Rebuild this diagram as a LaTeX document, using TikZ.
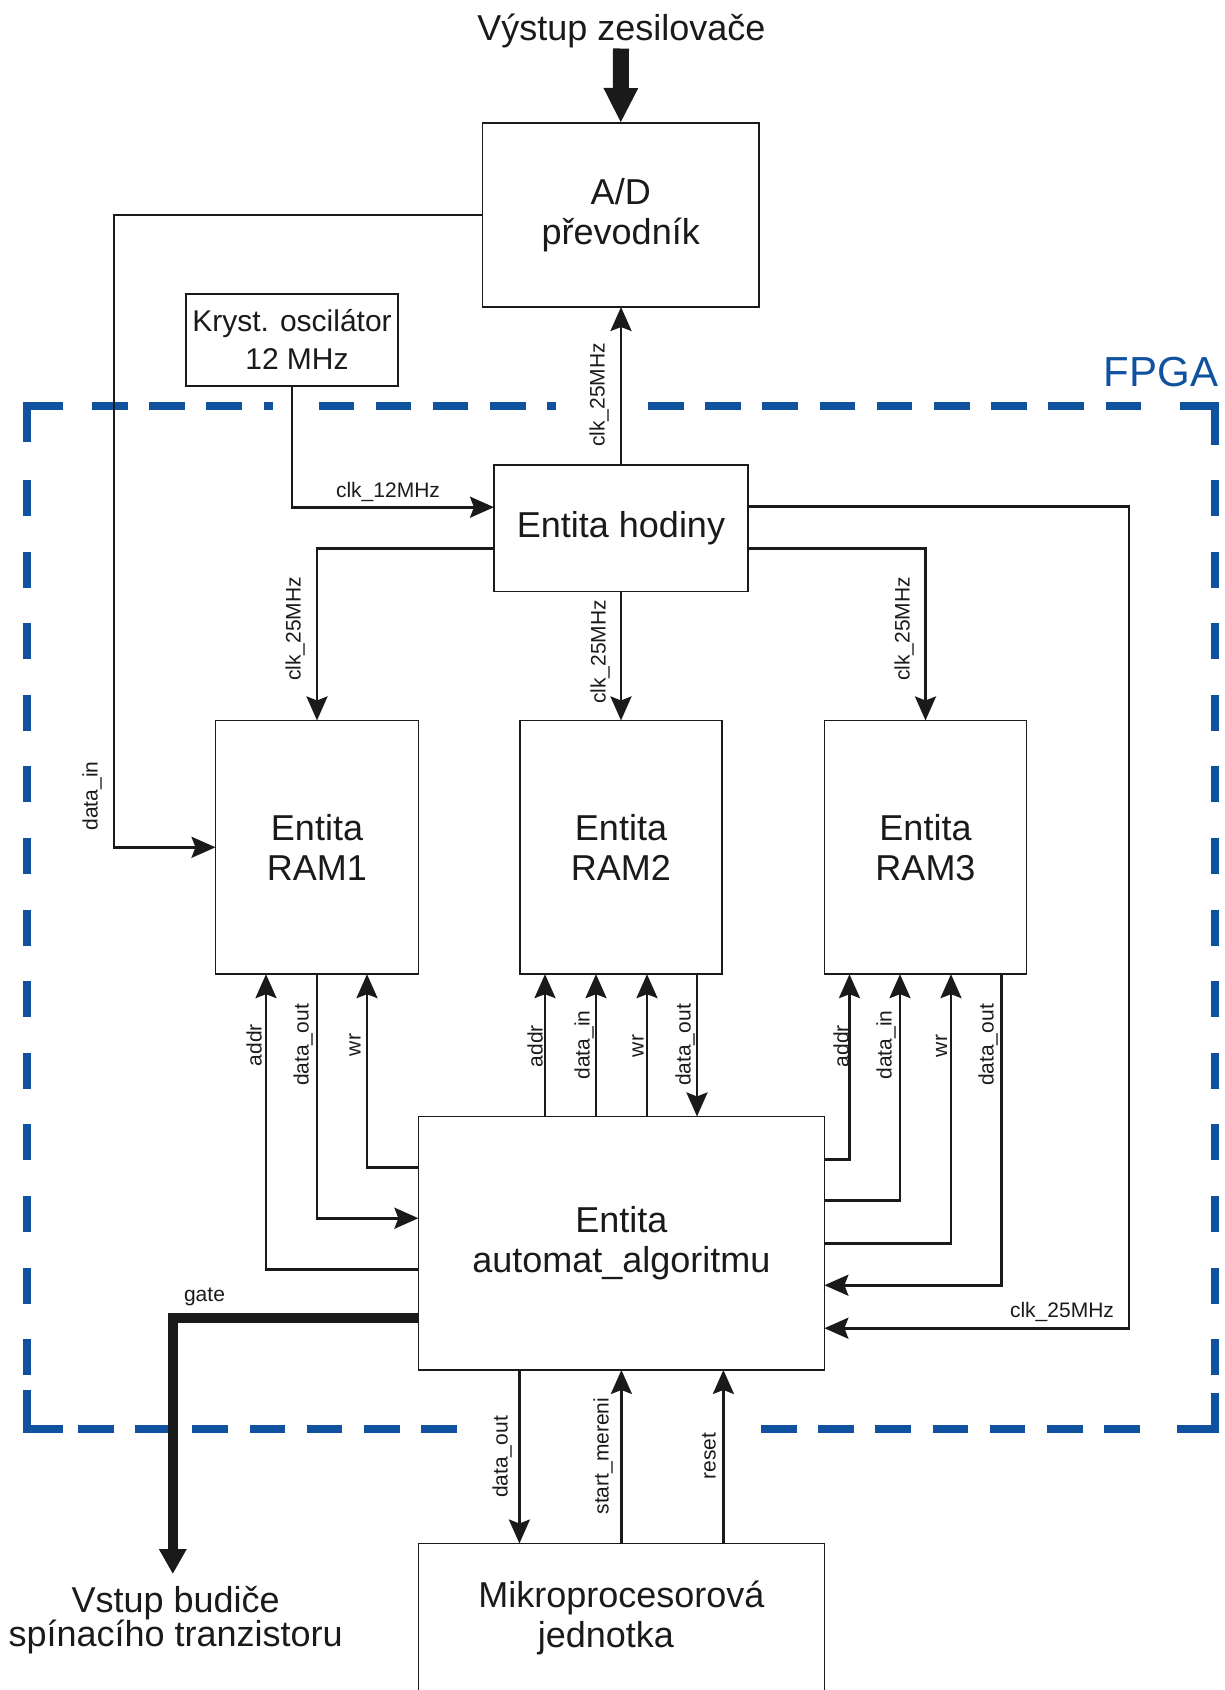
\documentclass[tikz,border=0pt]{standalone}
\usepackage{fontspec}
\usepackage{graphicx}
\setmainfont{Liberation Sans}
\usetikzlibrary{arrows.meta}
\definecolor{fpgablue}{RGB}{16,82,160}
\definecolor{ink}{RGB}{26,26,26}
\begin{document}
\begin{tikzpicture}[x=1pt,y=-1pt,
  box/.style={draw=ink, line width=1.8pt, inner sep=0pt, outer sep=0pt, align=center, font=\fontsize{36}{40}\selectfont, text=ink},
  conn/.style={draw=ink, line width=2.8pt, line join=miter, -{Stealth[length=24pt,width=21pt,inset=4pt]}},
  bigarrow/.style={draw=ink, line width=16pt, -{Triangle[length=35pt,width=32pt]}},
  gatearrow/.style={draw=ink, line width=10.5pt, line join=miter, -{Triangle[length=25pt,width=26pt]}},
  lbl/.style={inner sep=0pt, font=\fontsize{21}{25}\selectfont, text=ink},
  vlbl/.style={lbl, rotate=90},
  fpgah/.style={draw=fpgablue, line width=8pt, dash pattern=on 35.5pt off 21.7pt},
  fpgav/.style={draw=fpgablue, line width=8pt, dash pattern=on 36pt off 35.6pt},
  fpgac/.style={draw=fpgablue, line width=8pt, line join=miter},
]
\useasboundingbox (0,0) rectangle (1224,1690);
\clip (0,0) rectangle (1224,1690);

% FPGA frame
\draw[fpgac] (27,441.8) -- (27,406) -- (62.5,406);
\draw[fpgac] (1180,406) -- (1214.5,406) -- (1214.5,444.6);
\draw[fpgac] (27,1390) -- (27,1429) -- (62.5,1429);
\draw[fpgac] (1177,1429) -- (1214.5,1429) -- (1214.5,1393);
\draw[fpgah] (92,406) -- (273,406);
\draw[fpgah] (318.5,406) -- (556,406);
\draw[fpgah] (648,406) -- (1141,406);
\draw[fpgah] (78,1429) -- (458,1429);
\draw[fpgah] (761,1429) -- (1141,1429);
\draw[fpgav] (27,480) -- (27,1375);
\draw[fpgav] (1214.5,480) -- (1214.5,1375);
\node[anchor=base east, inner sep=0pt, text=fpgablue, font=\fontsize{42}{48}\selectfont] (fpgalbl) at (1218.5,386) {FPGA};

% boxes
\node[box, minimum width=276.5pt, minimum height=184pt] (ad) at (620.75,215) {A/D\\převodník};
\node[box, font=\fontsize{30}{38}\selectfont, minimum width=212pt, minimum height=92pt] (osc) at (292,339.6) {Kryst. oscilátor\\\hspace*{10pt}12 MHz};
\node[box, minimum width=254pt, minimum height=126.5pt] (hod) at (621,528.2) {Entita hodiny};
\node[box, minimum width=203pt, minimum height=253.7pt] (ram1) at (317,847.3) {Entita\\RAM1};
\node[box, minimum width=202pt, minimum height=253.7pt] (ram2) at (621,847.3) {Entita\\RAM2};
\node[box, minimum width=202pt, minimum height=253.7pt] (ram3) at (925.5,847.3) {Entita\\RAM3};
\node[box, minimum width=406pt, minimum height=253.5pt] (aut) at (621.4,1243.2) {Entita\\automat\_algoritmu};
\node[box, minimum width=406pt, minimum height=149pt] (mik) at (621.4,1618) {Mikroprocesorová\\jednotka\hspace*{31pt}};

% free texts
\node[inner sep=0pt, anchor=base, font=\fontsize{36}{40}\selectfont, text=ink] (title) at (621.5,40) {Výstup zesilovače};
\node[inner sep=0pt, align=center, font=\fontsize{36}{34}\selectfont, text=ink] (gout) at (175.6,1620) {Vstup budiče\\spínacího tranzistoru};
\coordinate (tin) at (621,48.5);
\coordinate (gend) at (172.8,1574);

% connectors
\draw[bigarrow] (tin) -- (ad.north);
\draw[conn] (ad.west) -- ++(-368.5,0) |- (ram1.west);
\draw[conn] (osc.south) |- ([yshift=21pt]hod.west);
\draw[conn] (hod.north) -- (hod.north |- ad.south);
\draw[conn] ([yshift=-20pt]hod.west) -| (ram1.north);
\draw[conn] (hod.south) -- (ram2.north);
\draw[conn] ([yshift=-20pt]hod.east) -| (ram3.north);
\draw[conn] ([yshift=22pt]hod.east) -- ++(381,0) |- ([yshift=-85pt]aut.east);

% RAM1
\draw[conn] ([yshift=-26pt]aut.west) -| ([xshift=-51pt]ram1.south);
\draw[conn] (ram1.south) |- ([yshift=25pt]aut.west);
\draw[conn] ([yshift=76pt]aut.west) -| ([xshift=50pt]ram1.south);
% RAM2
\draw[conn] ([xshift=-76pt]ram2.south |- aut.north) -- ([xshift=-76pt]ram2.south);
\draw[conn] ([xshift=-25pt]ram2.south |- aut.north) -- ([xshift=-25pt]ram2.south);
\draw[conn] ([xshift=26pt]ram2.south |- aut.north) -- ([xshift=26pt]ram2.south);
\draw[conn] ([xshift=76pt]ram2.south) -- ([xshift=76pt]ram2.south |- aut.north);
% RAM3
\draw[conn] ([yshift=84pt]aut.east) -| ([xshift=-76pt]ram3.south);
\draw[conn] ([yshift=42.5pt]aut.east) -| ([xshift=-25.5pt]ram3.south);
\draw[conn] (aut.east) -| ([xshift=25.5pt]ram3.south);
\draw[conn] ([xshift=76pt]ram3.south) |- ([yshift=-42pt]aut.east);
% Mikro
\draw[conn] ([xshift=-102pt]aut.south) -- ([xshift=-102pt]mik.north);
\draw[conn] (mik.north) -- (aut.south);
\draw[conn] ([xshift=102pt]mik.north) -- ([xshift=102pt]aut.south);
% gate
\draw[gatearrow] ([yshift=-75pt]aut.west) -| (gend);

% labels
\node[lbl] (l12) at (388,492) {clk\_12MHz};
\node[vlbl] (lc0) at (599,395) {clk\_25MHz};
\node[vlbl] (lc1) at (295,629) {clk\_25MHz};
\node[vlbl] (lc2) at (600,652) {clk\_25MHz};
\node[vlbl] (lc3) at (904,629) {clk\_25MHz};
\node[lbl] (lc4) at (1062,1312) {clk\_25MHz};
\node[vlbl] (ldi) at (92,796) {data\_in};
\node[vlbl] (r1a) at (254,1045) {addr};
\node[vlbl] (r1d) at (303,1045) {data\_out};
\node[vlbl] (r1w) at (355,1045) {wr};
\node[vlbl] (r2a) at (535,1046) {addr};
\node[vlbl] (r2i) at (584,1045) {data\_in};
\node[vlbl] (r2w) at (638,1046) {wr};
\node[vlbl] (r2o) at (685,1045) {data\_out};
\node[vlbl] (r3a) at (841,1046) {addr};
\node[vlbl] (r3i) at (886,1045) {data\_in};
\node[vlbl] (r3w) at (941.5,1046) {wr};
\node[vlbl] (r3o) at (988,1045) {data\_out};
\node[lbl] (lg) at (204.5,1297) {gate};
\node[vlbl] (md) at (502,1457) {data\_out};
\node[vlbl] (ms) at (603,1456) {start\_mereni};
\node[vlbl] (mr) at (709,1456) {reset};
\end{tikzpicture}
\end{document}
